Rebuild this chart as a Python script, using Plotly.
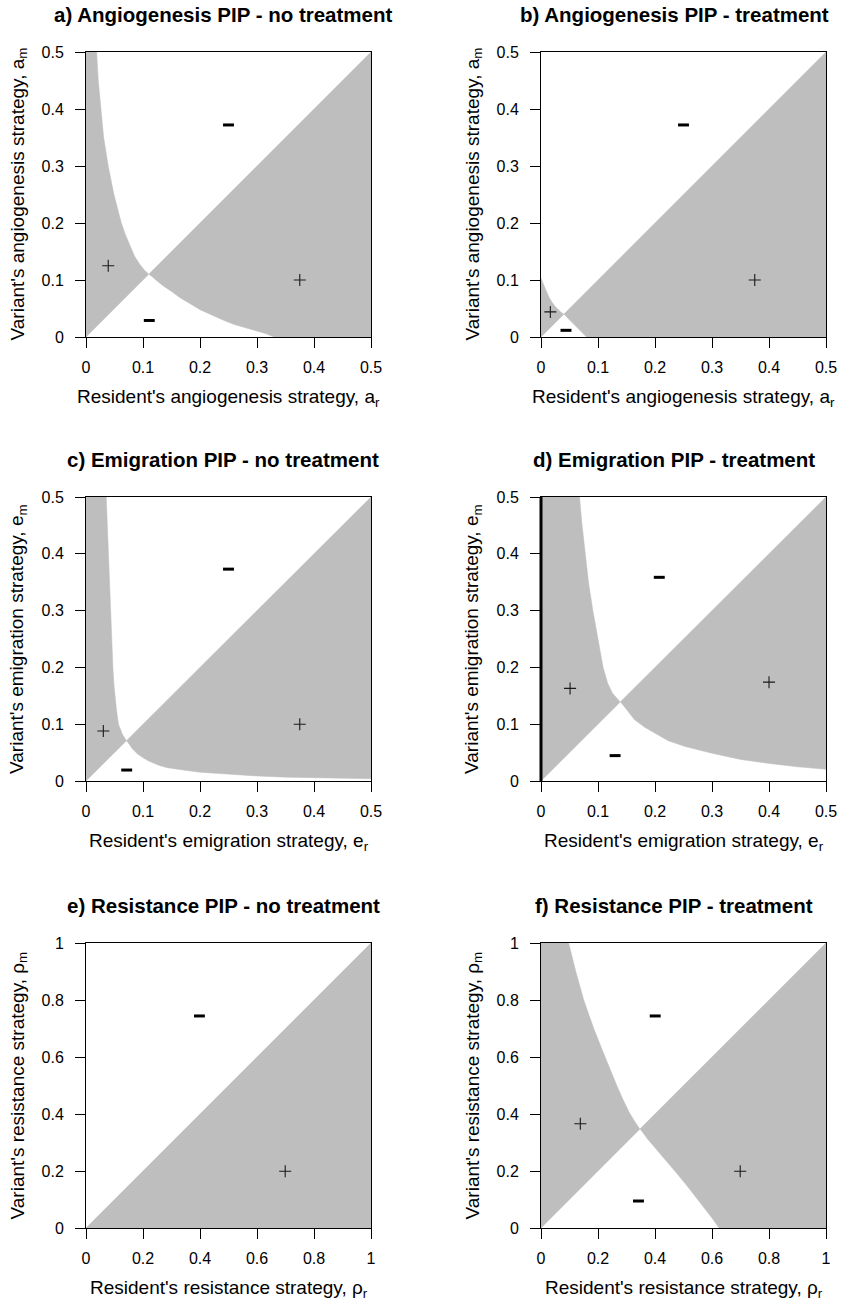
import plotly.graph_objects as go

# ---------------- data ----------------
titles = ["a) Angiogenesis PIP - no treatment", "b) Angiogenesis PIP - treatment",
          "c) Emigration PIP - no treatment", "d) Emigration PIP - treatment",
          "e) Resistance PIP - no treatment", "f) Resistance PIP - treatment"]
x_titles = ["Resident's angiogenesis strategy, a<sub>r</sub>", "Resident's angiogenesis strategy, a<sub>r</sub>",
            "Resident's emigration strategy, e<sub>r</sub>", "Resident's emigration strategy, e<sub>r</sub>",
            "Resident's resistance strategy, ρ<sub>r</sub>", "Resident's resistance strategy, ρ<sub>r</sub>"]
y_titles = ["Variant's angiogenesis strategy, a<sub>m</sub>", "Variant's angiogenesis strategy, a<sub>m</sub>",
            "Variant's emigration strategy, e<sub>m</sub>", "Variant's emigration strategy, e<sub>m</sub>",
            "Variant's resistance strategy, ρ<sub>m</sub>", "Variant's resistance strategy, ρ<sub>m</sub>"]
axis_max = [0.5, 0.5, 0.5, 0.5, 1.0, 1.0]
tick_step = [0.1, 0.1, 0.1, 0.1, 0.2, 0.2]

# second boundary curve of each PIP (passes through the singular point on the diagonal)
a_curve_x = [0.0187, 0.0215, 0.0257, 0.031, 0.039, 0.044, 0.049, 0.055, 0.062, 0.069, 0.077, 0.085, 0.094,
             0.102, 0.11, 0.12, 0.135, 0.15, 0.165, 0.185, 0.2, 0.22, 0.24, 0.26, 0.28, 0.3, 0.315, 0.33]
a_curve_y = [0.5, 0.45, 0.4, 0.35, 0.3, 0.275, 0.25, 0.225, 0.2, 0.18, 0.16, 0.142, 0.128,
             0.118, 0.11, 0.102, 0.09, 0.08, 0.069, 0.057, 0.048, 0.039, 0.03, 0.022, 0.016, 0.0105, 0.006, 0.0]
b_curve_x = [0.0, 0.005, 0.01, 0.015, 0.02, 0.025, 0.03, 0.035, 0.04, 0.045, 0.05, 0.055, 0.06, 0.065, 0.07,
             0.075, 0.08]
b_curve_y = [0.103, 0.09, 0.079, 0.068, 0.06, 0.0535, 0.048, 0.0435, 0.04, 0.035, 0.03, 0.025, 0.02, 0.015, 0.01,
             0.005, 0.0]
c_curve_x = [0.0355, 0.0375, 0.0395, 0.0415, 0.0435, 0.0454, 0.0472, 0.049, 0.051, 0.0535, 0.057, 0.0605, 0.064,
             0.071, 0.08, 0.09, 0.1, 0.11, 0.12, 0.13, 0.1425, 0.16, 0.18, 0.2, 0.25, 0.3, 0.35, 0.4, 0.45, 0.5]
c_curve_y = [0.5, 0.45, 0.4, 0.35, 0.3, 0.25, 0.2, 0.17, 0.148, 0.125, 0.1, 0.09, 0.082,
             0.071, 0.058, 0.048, 0.041, 0.035, 0.031, 0.027, 0.0235, 0.0205, 0.018, 0.0155, 0.0115, 0.0088,
             0.0068, 0.0053, 0.0045, 0.004]
d_curve_x = [0.0676, 0.0717, 0.0776, 0.0835, 0.091, 0.0995, 0.109, 0.117, 0.1255, 0.139, 0.153, 0.1646, 0.182,
             0.2, 0.223, 0.253, 0.3, 0.35, 0.4, 0.45, 0.5]
d_curve_y = [0.5, 0.454, 0.4, 0.3486, 0.3, 0.25, 0.2, 0.172, 0.1546, 0.139, 0.122, 0.1076, 0.0946,
             0.084, 0.071, 0.0606, 0.0488, 0.038, 0.031, 0.025, 0.0206]
e_curve_x = []
e_curve_y = []
f_curve_x = [0.097, 0.122, 0.15, 0.185, 0.225, 0.266, 0.288, 0.31, 0.33, 0.347, 0.37, 0.4, 0.44, 0.477, 0.513,
             0.547, 0.575, 0.6, 0.625]
f_curve_y = [1.0, 0.9, 0.8, 0.7, 0.6, 0.5, 0.45, 0.405, 0.372, 0.347, 0.317, 0.283, 0.236, 0.191, 0.147,
             0.104, 0.068, 0.035, 0.0]
curves_x = [a_curve_x, b_curve_x, c_curve_x, d_curve_x, e_curve_x, f_curve_x]
curves_y = [a_curve_y, b_curve_y, c_curve_y, d_curve_y, e_curve_y, f_curve_y]

plus_x = [[0.039, 0.375], [0.0164, 0.375], [0.0304, 0.375], [0.051, 0.4], [0.699], [0.138, 0.699]]
plus_y = [[0.125, 0.1], [0.044, 0.1], [0.088, 0.1], [0.163, 0.174], [0.199], [0.366, 0.199]]
minus_x = [[0.25, 0.111], [0.25, 0.0438], [0.25, 0.0714], [0.2075, 0.13], [0.398], [0.4007, 0.342]]
minus_y = [[0.372, 0.029], [0.372, 0.0117], [0.373, 0.0193], [0.3586, 0.0447], [0.744], [0.744, 0.0947]]

# ---------------- layout geometry (pixels) ----------------
W, H = 841, 1301
col_px = [(86, 371), (541, 826)]
row_px = [(52, 337), (497, 781), (943, 1228)]
title_cx = [223, 674]

GRAY = "#bebebe"
FONT = "Liberation Sans, Arial, sans-serif"

fig = go.Figure()
annotations = []
shapes = []
layout_axes = {}


def polygons(cx, cy, R):
    """Gray (invasion-possible) regions between the diagonal and the curve."""
    if not cx:
        return [([0, R, R], [0, R, 0])]
    k = min(range(len(cx)), key=lambda i: abs(cx[i] - cy[i]))
    xc = cx[k]
    lx = [0, xc] + (cx[k - 1::-1] if k > 0 else [])
    ly = [0, xc] + (cy[k - 1::-1] if k > 0 else [])
    if cx[0] > 0:
        lx.append(0)
        ly.append(R)
    rx = [xc, R]
    ry = [xc, R]
    if cx[-1] < R:
        rx.append(R)
        ry.append(0)
    rx += cx[:k:-1]
    ry += cy[:k:-1]
    return [(lx, ly), (rx, ry)]


for i in range(6):
    r, c = divmod(i, 2)
    n = i + 1
    xa = "x" if n == 1 else f"x{n}"
    ya = "y" if n == 1 else f"y{n}"
    R = axis_max[i]
    x0p, x1p = col_px[c]
    y0p, y1p = row_px[r]
    dom_x = [x0p / W, x1p / W]
    dom_y = [1 - y1p / H, 1 - y0p / H]
    pw = x1p - x0p
    ph = y1p - y0p

    for px, py in polygons(curves_x[i], curves_y[i], R):
        fig.add_trace(go.Scatter(x=px, y=py, xaxis=xa, yaxis=ya, mode="lines",
                                 fill="toself", fillcolor=GRAY, line=dict(width=0.5, color=GRAY),
                                 hoverinfo="skip", showlegend=False))
    fig.add_trace(go.Scatter(x=plus_x[i], y=plus_y[i], xaxis=xa, yaxis=ya, mode="markers",
                             marker=dict(symbol="cross-thin", size=8.6, line=dict(width=1.1, color="#1a1a1a")),
                             hoverinfo="skip", showlegend=False))
    fig.add_trace(go.Scatter(x=minus_x[i], y=minus_y[i], xaxis=xa, yaxis=ya, mode="markers",
                             marker=dict(symbol="line-ew", size=7.8, line=dict(width=3, color="black")),
                             hoverinfo="skip", showlegend=False))

    ticks = [round(t * tick_step[i], 3) for t in range(int(round(R / tick_step[i])) + 1)]
    common = dict(showgrid=False, zeroline=False, showline=True, linecolor="black", linewidth=1,
                  mirror=True, ticks="outside", ticklen=10, tickwidth=1, tickcolor="black",
                  tickvals=ticks, ticktext=[f"{t:g}" for t in ticks], automargin=False,
                  tickfont=dict(family=FONT, size=16, color="black"), range=[0, R], fixedrange=True)
    layout_axes["xaxis" if n == 1 else f"xaxis{n}"] = dict(domain=dom_x, anchor=ya, ticklabelstandoff=6, **common)
    layout_axes["yaxis" if n == 1 else f"yaxis{n}"] = dict(domain=dom_y, anchor=xa, ticklabelstandoff=8, **common)

    dref_x = f"{xa} domain"
    dref_y = f"{ya} domain"
    annotations.append(dict(text=f"<b>{titles[i]}</b>", xref=dref_x, yref=dref_y,
                            x=(title_cx[c] - x0p) / pw, y=1 + 37.5 / ph, xanchor="center", yanchor="middle",
                            showarrow=False, font=dict(family=FONT, size=20.5, color="black")))
    annotations.append(dict(text=x_titles[i], xref=dref_x, yref=dref_y, x=0.5, y=-61 / ph,
                            xanchor="center", yanchor="middle", showarrow=False,
                            font=dict(family=FONT, size=19, color="black")))
    annotations.append(dict(text=y_titles[i], xref=dref_x, yref=dref_y, x=-68 / pw, y=0.5,
                            xanchor="center", yanchor="middle", textangle=-90, showarrow=False,
                            font=dict(family=FONT, size=19, color="black")))
    if i == 3:
        shapes.append(dict(type="line", xref="paper", yref="paper", x0=dom_x[0], x1=dom_x[0],
                           y0=dom_y[0], y1=dom_y[1], line=dict(color="black", width=3)))

fig.update_layout(width=W, height=H, margin=dict(l=0, r=0, t=0, b=0),
                  paper_bgcolor="white", plot_bgcolor="white",
                  annotations=annotations, shapes=shapes, showlegend=False,
                  font=dict(family=FONT), **layout_axes)

fig.write_html("out.html", config={"displayModeBar": False, "staticPlot": True},
               post_script="document.body.style.margin='0';document.body.style.overflow='hidden';")
